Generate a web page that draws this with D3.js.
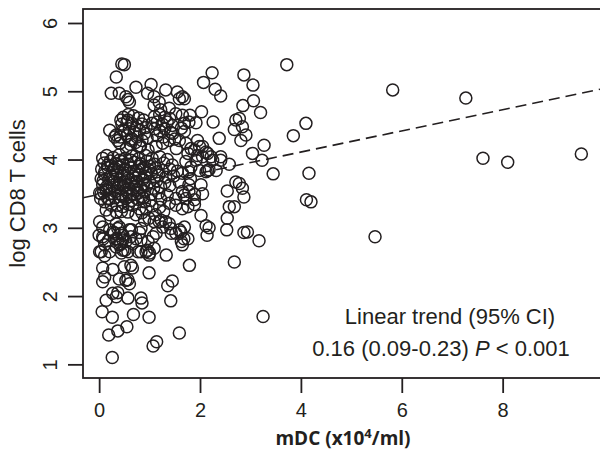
<!DOCTYPE html>
<html>
<head>
<meta charset="utf-8">
<script src="https://cdn.jsdelivr.net/npm/d3@7"></script>
<style>
  body { margin: 0; background: white; }
  svg { display: block; }
</style>
</head>
<body>
<div id="chart"></div>
<script>
let w = 600, h = 451;
let ink = "#231f20";

// points, [mDC, log CD8]
let sparsePoints = [
  [3.72,5.39],[5.82,5.02],[7.27,4.90],[4.10,4.53],[3.85,4.35],[4.16,3.80],[4.11,3.41],[4.20,3.38],
  [7.61,4.02],[8.10,3.96],[9.56,4.08],[5.47,2.87],[3.25,1.70],[3.45,3.79]
];

let upperRight = [
  [2.24,5.27],[2.87,5.24],[2.07,5.13],[3.05,5.09],[2.30,5.03],[2.41,4.93],[3.06,4.86],[2.85,4.79],
  [3.20,4.69],[1.69,4.89],[2.03,4.70],[1.80,4.65],[1.92,4.54],[2.26,4.55],[2.71,4.58],[2.78,4.60],
  [2.84,4.48],[2.68,4.44],[2.91,4.36],[2.38,4.31],[2.81,4.28],[3.27,4.21],[3.04,4.09],[1.95,4.28],
  [2.05,4.19],[1.82,4.16],[1.76,4.09],[1.95,4.06],[2.15,4.09],[2.41,4.04],[1.69,4.53],
  [1.89,4.14],[1.99,4.19],[2.12,4.11],[1.92,3.99],[2.05,4.04],[1.82,3.89],[1.99,3.84],[2.12,3.82],
  [2.25,3.99],[2.18,3.85],[2.32,3.84],[2.22,4.04],[1.72,4.24]
];

let middleRight = [
  [2.41,3.99],[2.58,3.93],[3.23,3.99],[2.15,3.84],[2.78,3.65],[2.71,3.67],[2.84,3.58],[2.87,3.45],
  [2.54,3.54],[2.05,3.50],[1.89,3.49],[1.69,3.48],[2.68,3.31],[1.89,3.34],[1.76,3.31],[2.02,3.18],
  [2.54,3.14],[2.12,3.03],[2.18,3.00],[2.14,2.89],[2.53,2.97],[2.87,2.93],[2.94,2.94],[3.17,2.81],
  [1.76,2.84],[1.69,3.01],[1.79,2.45],[2.68,2.50],[2.58,3.31],[2.02,3.63],[1.89,3.41]
];

let lowerLeft = [
  [0.07,2.41],[0.27,2.39],[0.50,2.43],[0.63,2.45],[0.66,2.41],[0.99,2.34],[0.11,2.28],[0.07,2.21],
  [0.40,2.25],[0.53,2.23],[0.60,2.18],[0.57,2.24],[1.45,2.22],[1.36,2.15],[0.27,2.04],[0.34,1.99],
  [0.37,2.05],[0.14,1.94],[0.57,1.97],[0.83,1.97],[0.85,1.90],[1.42,1.93],[0.06,1.77],[0.26,1.69],
  [0.68,1.73],[0.99,1.69],[1.59,1.46],[0.19,1.43],[0.37,1.49],[0.55,1.55],[1.07,1.27],[1.14,1.33],
  [0.26,1.10],
  [0.01,2.65],[0.11,2.59],[0.08,2.84],[0.18,2.81],[0.28,2.94],[0.37,2.99],[0.44,2.92],[0.34,2.84],
  [0.47,2.82],[0.41,2.75],[0.51,2.67],[0.44,2.63],[0.57,2.65],[0.64,2.97],[0.80,2.93],[0.77,2.65],
  [0.93,2.65],[1.00,2.63],[0.97,2.80],[1.07,2.87],[1.13,2.92],[1.33,2.60],[1.43,2.92],[1.59,2.97],
  [1.63,2.80],[1.39,3.06],[1.23,3.11]
];

let middleLeft = [
  [0.07,4.02],[0.17,3.92],[0.11,3.82],[0.04,3.72],[0.07,3.63],[0.14,3.55],[0.04,3.50],[0.17,3.43],
  [0.11,3.38],[0.24,3.33],[0.14,3.26],[0.21,3.19],[0.34,3.23],
  [0.01,3.09],[0.07,3.01],[0.21,2.97],[0.34,3.06],[0.40,3.01],[0.30,2.92],[0.47,2.89],[0.37,2.82],
  [0.07,2.87],[0.00,2.89],
  [0.11,2.75],[0.04,2.65],[0.21,2.65],[0.34,2.72],[0.47,2.67],[0.43,2.77],[0.53,2.80],[0.66,2.77],
  [0.73,2.84],[0.83,2.82],[0.63,2.87],[0.60,2.97],[0.83,2.99],
  [0.83,2.65],[0.96,2.67],[1.09,2.70],[0.99,2.60],
  [1.26,3.01],[1.32,3.09],[1.42,2.99],[1.52,2.92],[1.62,2.94],[1.68,2.84],[1.65,2.75],
  [0.99,3.14],[1.12,3.19],[1.09,3.09],[0.90,3.11],[1.19,3.09],
  [1.39,3.36],[1.52,3.33],[1.65,3.28],[1.52,3.43],[1.72,3.43],[1.78,3.53],[1.65,3.53],
  [0.66,3.33],[0.80,3.28],[0.57,3.23],[0.73,3.19],[0.93,3.28],[0.90,3.38],
  [1.72,3.97],[1.78,3.82],[1.81,3.72],[1.65,3.80],[1.59,3.67],[1.78,3.63]
];

let upperLeft = [
  [0.45,5.40],[0.50,5.39],[0.34,5.21],[0.24,4.97],[0.40,4.97],[0.57,4.88],[0.60,4.84],[0.53,4.92],
  [0.73,5.06],[1.03,5.10],[0.96,4.97],[1.09,4.92],[1.19,4.84],[1.32,5.02],[1.55,4.99],[1.65,4.92],
  [1.59,4.89],[1.09,4.80],[1.22,4.73],[1.39,4.75],[1.52,4.67],[1.65,4.65],[1.78,4.55],[0.21,4.43],
  [0.34,4.36],[0.43,4.58],[0.57,4.58],[0.47,4.43],[0.37,4.28],
  [0.31,4.33],[0.41,4.24],[0.54,4.16],[0.64,4.28],[0.80,4.19],[0.97,4.14],[1.13,4.19],[1.26,4.24],
  [1.39,4.28],[1.53,4.16],[1.59,4.28],[1.69,4.41],[1.63,4.46],[1.46,4.38]
];

// the two dark blobs around log CD8 4.3-4.7
let upperBlobs = [
  [0.48,4.62],[0.58,4.66],[0.68,4.64],[0.78,4.61],[0.88,4.58],
  [0.45,4.52],[0.55,4.55],[0.65,4.53],[0.75,4.50],[0.85,4.52],[0.93,4.47],
  [0.50,4.42],[0.60,4.45],[0.70,4.40],[0.80,4.43],[0.90,4.38],
  [0.42,4.33],[0.55,4.35],[0.65,4.30],[0.75,4.33],[0.85,4.28],[0.95,4.32],
  [0.62,4.22],[0.72,4.25],[0.82,4.20],
  [1.10,4.63],[1.20,4.66],[1.30,4.62],[1.40,4.60],
  [1.05,4.53],[1.15,4.55],[1.25,4.52],[1.35,4.55],[1.45,4.50],
  [1.10,4.45],[1.20,4.42],[1.30,4.45],[1.42,4.40],
  [1.15,4.35],[1.28,4.33],[1.50,4.30]
];

// the big dense cluster around log CD8 3.3-4.1
let denseCluster = [
  [0.15,4.06],[0.28,4.03],[0.40,4.07],[0.52,4.02],[0.65,4.05],[0.78,4.01],[0.92,4.06],[1.05,4.02],[1.20,4.04],[1.35,4.00],
  [0.10,3.95],[0.22,3.98],[0.34,3.94],[0.46,3.97],[0.58,3.93],[0.70,3.96],[0.82,3.94],[0.95,3.98],[1.10,3.93],[1.28,3.95],[1.45,3.92],
  [0.05,3.86],[0.17,3.88],[0.29,3.85],[0.40,3.89],[0.51,3.86],[0.62,3.88],[0.74,3.84],[0.86,3.87],[0.98,3.85],[1.12,3.88],[1.25,3.84],[1.40,3.86],[1.55,3.83],
  [0.11,3.78],[0.23,3.76],[0.34,3.79],[0.45,3.77],[0.56,3.80],[0.67,3.76],[0.79,3.78],[0.91,3.75],[1.04,3.79],[1.18,3.77],[1.32,3.74],[1.48,3.76],
  [0.08,3.69],[0.19,3.71],[0.30,3.68],[0.41,3.70],[0.52,3.67],[0.63,3.70],[0.75,3.68],[0.87,3.71],[1.00,3.67],[1.14,3.69],[1.30,3.66],
  [0.15,3.60],[0.26,3.62],[0.37,3.59],[0.48,3.61],[0.59,3.58],[0.70,3.61],[0.82,3.59],[0.95,3.62],[1.08,3.58],[1.22,3.60],[1.40,3.62],
  [0.09,3.52],[0.21,3.50],[0.32,3.53],[0.43,3.50],[0.55,3.52],[0.66,3.49],[0.78,3.51],[0.90,3.53],[1.03,3.49],[1.18,3.51],[1.35,3.48],
  [0.20,3.42],[0.31,3.44],[0.42,3.41],[0.53,3.43],[0.64,3.40],[0.76,3.42],[0.88,3.44],[1.02,3.40],[1.22,3.42],
  [0.36,3.33],[0.47,3.31],[0.58,3.34],[1.05,3.32],[1.20,3.30],
  [0.44,3.24],[0.85,3.22],[1.28,3.24],[0.01,3.51],[0.03,3.43]
];

// more overlapping circles in the darkest part of the cluster
let denseCore = [
  [0.24,3.91],[0.36,3.82],[0.47,3.92],[0.57,3.73],[0.69,3.83],[0.80,3.90],[0.93,3.80],[0.41,3.64],
  [0.53,3.56],[0.64,3.64],[0.76,3.55],[0.27,3.74],[0.35,3.66],[0.60,3.46],[0.72,3.73],[0.88,3.64],
  [0.20,3.57],[0.47,3.46],[0.30,3.88],[0.85,3.46],[1.00,3.90],[1.15,3.82],[0.40,3.99],[0.63,3.99]
];

let trendIntercept = 3.49;
let trendSlope = 0.155;

let xTicks = [0, 2, 4, 6, 8];
let yTicks = [1, 2, 3, 4, 5, 6];

let allPoints = sparsePoints.concat(upperRight, middleRight, lowerLeft, middleLeft, upperLeft, upperBlobs, denseCluster, denseCore);

let svg = d3.select("#chart")
    .append("svg")
    .attr("width", w)
    .attr("height", h)
    .style("background-color", "white")
;

// plot box edges
let boxLeft = 83, boxRight = 600, boxTop = 9, boxBottom = 378;

let xScale = d3.scaleLinear().domain([-0.32, 9.93]).range([boxLeft, boxRight]);
let yScale = d3.scaleLinear().domain([0.80, 6.205]).range([boxBottom, boxTop]);

svg.append("clipPath").attr("id", "plotClip")
  .append("rect")
    .attr("x", boxLeft).attr("y", boxTop)
    .attr("width", boxRight - boxLeft).attr("height", boxBottom - boxTop);

// points
let pointGroup = svg.append("g").attr("clip-path", "url(#plotClip)");
pointGroup.selectAll(".datapoint").data(allPoints).enter()
  .append("circle")
    .attr("class", "datapoint")
    .attr("cx", d => xScale(d[0]))
    .attr("cy", d => yScale(d[1]))
    .attr("r", 6)
    .attr("fill", "none")
    .attr("stroke", ink)
    .attr("stroke-width", 1.5)
;

// dashed linear trend
let xDom = xScale.domain();
pointGroup.append("line")
    .attr("x1", xScale(xDom[0]))
    .attr("y1", yScale(trendIntercept + trendSlope * xDom[0]))
    .attr("x2", xScale(xDom[1]))
    .attr("y2", yScale(trendIntercept + trendSlope * xDom[1]))
    .attr("stroke", ink)
    .attr("stroke-width", 1.6)
    .attr("stroke-dasharray", "11,6")
;

// box
svg.append("rect")
    .attr("x", boxLeft).attr("y", boxTop)
    .attr("width", boxRight - boxLeft + 4).attr("height", boxBottom - boxTop)
    .attr("fill", "none")
    .attr("stroke", ink)
    .attr("stroke-width", 1.8)
;

// axes
let xAxis = d3.axisBottom(xScale).tickValues(xTicks).tickSize(15).tickPadding(10).tickFormat(d3.format("d"));
let xAxisGroup = svg.append("g").attr("transform", "translate(0," + boxBottom + ")").call(xAxis);

let yAxis = d3.axisLeft(yScale).tickValues(yTicks).tickSize(15).tickFormat(d3.format("d"));
let yAxisGroup = svg.append("g").attr("transform", "translate(" + boxLeft + ",0)").call(yAxis);

[xAxisGroup, yAxisGroup].forEach(g => {
  g.select(".domain").remove();
  g.selectAll(".tick line").attr("stroke", ink).attr("stroke-width", 1.8);
  g.selectAll(".tick text")
    .attr("fill", ink)
    .style("font-family", "'Liberation Sans', Arial, sans-serif")
    .style("font-size", "20px");
});

// y labels run along the axis like R does
yAxisGroup.selectAll(".tick text")
    .attr("x", 0)
    .attr("dy", "0.35em")
    .attr("text-anchor", "middle")
    .attr("transform", "translate(-33,0) rotate(-90)")
;

// titles
svg.append("text")
    .attr("transform", "translate(25," + ((boxTop + boxBottom) / 2) + ") rotate(-90)")
    .attr("text-anchor", "middle")
    .attr("fill", ink)
    .style("font-family", "'Liberation Sans', Arial, sans-serif")
    .style("font-size", "22px")
    .text("log CD8 T cells")
;

let xTitle = svg.append("text")
    .attr("x", 343)
    .attr("y", 445)
    .attr("text-anchor", "middle")
    .attr("fill", ink)
    .style("font-family", "'Open Sans', sans-serif")
    .style("font-weight", "bold")
    .style("font-size", "19px")
;
xTitle.append("tspan").text("mDC (x10");
xTitle.append("tspan").attr("dy", -7).style("font-size", "13px").text("4");
xTitle.append("tspan").attr("dy", 7).text("/ml)");

// annotation
let noteFont = "'Liberation Sans', Arial, sans-serif";
svg.append("text")
    .attr("x", 450)
    .attr("y", 324)
    .attr("text-anchor", "middle")
    .attr("fill", ink)
    .style("font-family", noteFont)
    .style("font-size", "22px")
    .text("Linear trend (95% CI)")
;
let note2 = svg.append("text")
    .attr("x", 441)
    .attr("y", 355.5)
    .attr("text-anchor", "middle")
    .attr("fill", ink)
    .style("font-family", noteFont)
    .style("font-size", "22px")
;
note2.append("tspan").text("0.16 (0.09-0.23) ");
note2.append("tspan").style("font-style", "italic").text("P");
note2.append("tspan").text(" < 0.001");
</script>
</body>
</html>
